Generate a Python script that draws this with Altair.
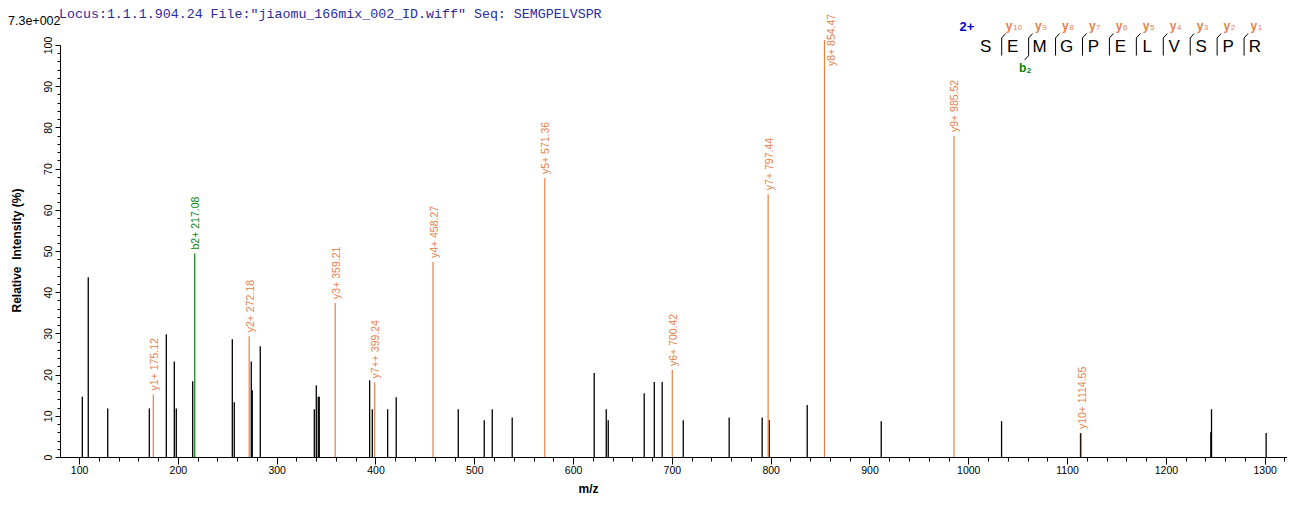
import altair as alt
import pandas as pd

# ---------------- data ----------------
peak_mz = [103.3, 109.3, 129.0, 171.1, 188.3, 196.4, 198.4, 215.0, 255.1, 257.1, 274.3, 275.3, 283.4,
           338.1, 340.1, 342.1, 343.1, 394.1, 396.8, 412.3, 421.0, 483.8, 510.1, 518.2, 538.4,
           621.4, 633.6, 635.6, 672.0, 682.2, 690.2, 711.5, 758.0, 791.4, 798.5, 837.0,
           911.9, 1033.7, 1113.6, 1245.5, 1246.2, 1301.5]
peak_int = [14.6, 43.6, 11.8, 11.8, 29.8, 23.2, 11.8, 18.4, 28.6, 13.3, 23.2, 16.2, 26.9,
            11.6, 17.4, 14.6, 14.6, 18.6, 11.6, 11.6, 14.5, 11.6, 8.9, 11.6, 9.6,
            20.4, 11.6, 8.9, 15.5, 18.2, 18.2, 8.9, 9.6, 9.6, 9.0, 12.6,
            8.7, 8.7, 5.8, 6.0, 11.6, 5.8]

ion_mz = [175.12, 217.08, 272.18, 359.21, 399.24, 458.27, 571.36, 700.42, 797.44, 854.47, 985.52, 1114.55]
ion_int = [15.2, 49.4, 29.3, 37.4, 18.1, 47.3, 67.7, 21.1, 63.8, 101.2, 77.9, 5.8]
ion_name = ["y1+", "b2+", "y2+", "y3+", "y7++", "y4+", "y5+", "y6+", "y7+", "y8+", "y9+", "y10+"]
ion_series = ["y", "b", "y", "y", "y", "y", "y", "y", "y", "y", "y", "y"]

x_major = list(range(100, 1301, 100))
x_minor = [v for v in range(100, 1321, 20) if v % 100 != 0]
y_major = list(range(0, 101, 10))
y_minor = [v for v in range(0, 101, 2) if v % 10 != 0]

header_text = 'Locus:1.1.1.904.24 File:"jiaomu_166mix_002_ID.wiff"   Seq: SEMGPELVSPR'
scale_text = "7.3e+002"
peptide = list("SEMGPELVSPR")
charge_text = "2+"
y_ion_numbers = ["10", "9", "8", "7", "6", "5", "4", "3", "2", "1"]
b_ion_numbers = ["2"]

# ---------------- styles ----------------
ORANGE = "#E5804A"
GREEN = "#0A7F0A"
BLUE = "#0000CC"
HEADER = "#2B2B9E"
FONT = "Liberation Sans"

black_df = pd.DataFrame({"mz": peak_mz, "intensity": peak_int})
ion_df = pd.DataFrame({"mz": ion_mz, "intensity": ion_int, "name": ion_name, "series": ion_series})
ion_df["label"] = ion_df["name"] + " " + ion_df["mz"].map(lambda v: f"{v:.2f}")

PLOT_W, PLOT_H = 1227, 412
xs = alt.Scale(domain=[80.7, 80.7 + PLOT_W / 0.988], nice=False, zero=False)
ys = alt.Scale(domain=[0, 100], nice=False, zero=True)
cs = alt.Scale(domain=["y", "b"], range=[ORANGE, GREEN])

x_axis = alt.Axis(
    title="m/z", values=x_major, format="d", tickSize=7, orient="bottom",
    labelPadding=1, labelFontSize=10.5, labelFont=FONT, labelColor="black",
    labelFlush=False, labelOverlap=False,
    titleFont=FONT, titleFontWeight="bold", titleFontSize=12, titleColor="black",
    titleX=528, titleY=31, titleAlign="center", titleBaseline="middle",
    domainColor="black", tickColor="black", grid=False,
)
y_axis = alt.Axis(
    title="Relative\u00a0 Intensity (%)", values=y_major, format="d", tickSize=5, orient="left",
    labelAngle=270, labelAlign="center", labelBaseline="bottom",
    labelPadding=2, labelFontSize=10.5, labelFont=FONT, labelColor="black",
    labelFlush=False, labelOverlap=False,
    titleFont=FONT, titleFontWeight="bold", titleFontSize=12, titleColor="black",
    titleAngle=270, titleX=-44, titleY=205, titleAlign="center", titleBaseline="middle",
    domainColor="black", tickColor="black", grid=False,
)
x_axis_minor = alt.Axis(values=x_minor, tickSize=4, labels=False, domain=False, title=None,
                        orient="bottom", offset=0, tickColor="black", grid=False)
y_axis_minor = alt.Axis(values=y_minor, tickSize=3, labels=False, domain=False, title=None,
                        orient="left", offset=0, tickColor="black", grid=False)

black = alt.Chart(black_df).mark_rule(color="black", strokeWidth=1.3).encode(
    x=alt.X("mz:Q", scale=xs, axis=x_axis),
    y=alt.Y("intensity:Q", scale=ys, axis=y_axis),
    y2=alt.datum(0),
)

minor = alt.Chart(black_df).mark_rule(opacity=0).encode(
    x=alt.X("mz:Q", scale=xs, axis=x_axis_minor),
    y=alt.Y("intensity:Q", scale=ys, axis=y_axis_minor),
)

ions = alt.Chart(ion_df).mark_rule(strokeWidth=1.2).encode(
    x=alt.X("mz:Q", scale=xs, axis=None),
    y=alt.Y("intensity:Q", scale=ys, axis=None),
    y2=alt.datum(0),
    color=alt.Color("series:N", scale=cs, legend=None),
)

labels = alt.Chart(ion_df).transform_filter("datum.intensity <= 95").mark_text(
    angle=270, align="left", baseline="middle", dx=4, dy=1.5, fontSize=10.5, font=FONT
).encode(
    x=alt.X("mz:Q", scale=xs, axis=None),
    y=alt.Y("intensity:Q", scale=ys, axis=None),
    text="label:N",
    color=alt.Color("series:N", scale=cs, legend=None),
)

top_labels = alt.Chart(ion_df).transform_filter("datum.intensity > 95").mark_text(
    angle=270, align="left", baseline="middle", dx=-26, dy=8, fontSize=10.5, font=FONT
).encode(
    x=alt.X("mz:Q", scale=xs, axis=None),
    y=alt.Y("intensity:Q", scale=ys, axis=None),
    text="label:N",
    color=alt.Color("series:N", scale=cs, legend=None),
)

one = pd.DataFrame({"k": [0]})
header = alt.Chart(one).mark_text(
    font="Liberation Mono", fontSize=13.3, color=HEADER, align="left", baseline="middle"
).encode(x=alt.value(-1), y=alt.value(-31), text=alt.value(header_text))

scale_label = alt.Chart(one).mark_text(
    font=FONT, fontSize=12.5, color="black", align="left", baseline="middle"
).encode(x=alt.value(-52), y=alt.value(-24), text=alt.value(scale_text))

# ---------------- peptide fragment map (top right) ----------------
OX, OY = 60, 45          # plot origin on the page
step = 26.93
letter_x0 = 985.7 - OX
letters_df = pd.DataFrame({"aa": peptide, "px": [letter_x0 + step * i for i in range(len(peptide))]})

letters = alt.Chart(letters_df).mark_text(
    font=FONT, fontSize=17, color="black", align="center", baseline="middle"
).encode(x=alt.X("px:Q", scale=None), y=alt.value(47 - OY), text="aa:N")

charge = alt.Chart(one).mark_text(
    font=FONT, fontSize=13, fontWeight="bold", color=BLUE, align="center", baseline="middle"
).encode(x=alt.value(967 - OX), y=alt.value(27 - OY), text=alt.value(charge_text))

sep_x0 = 1001.7 - OX
seg_rows = []
for k in range(len(peptide) - 1):
    x0 = sep_x0 + step * k
    seg_rows.append({"x1": x0, "x2": x0, "y1": 38 - OY, "y2": 55.5 - OY})
    seg_rows.append({"x1": x0, "x2": x0 + 4, "y1": 38 - OY, "y2": 33.5 - OY})
for n in b_ion_numbers:
    x0 = sep_x0 + step * (int(n) - 1)
    seg_rows.append({"x1": x0, "x2": x0 - 4, "y1": 55.5 - OY, "y2": 60 - OY})
seg_df = pd.DataFrame(seg_rows)
segments = alt.Chart(seg_df).mark_rule(color="black", strokeWidth=1).encode(
    x=alt.X("x1:Q", scale=None), x2="x2:Q",
    y=alt.Y("y1:Q", scale=None), y2="y2:Q",
)

yl_rows = []
for i, n in enumerate(y_ion_numbers):
    cx = letter_x0 + step * (i + 1) + 1
    w = 7 + 4.6 * len(n)
    yl_rows.append({"px": cx - w / 2 + 7, "num_px": cx - w / 2 + 7.5, "num": n})
yl_df = pd.DataFrame(yl_rows)
y_letters = alt.Chart(yl_df).mark_text(
    font=FONT, fontSize=12, fontWeight="bold", color=ORANGE, align="right", baseline="alphabetic"
).encode(x=alt.X("px:Q", scale=None), y=alt.value(30 - OY), text=alt.value("y"))
y_nums = alt.Chart(yl_df).mark_text(
    font=FONT, fontSize=8, color=ORANGE, align="left", baseline="alphabetic"
).encode(x=alt.X("num_px:Q", scale=None), y=alt.value(30 - OY), text="num:N")

bl_df = pd.DataFrame({"px": [sep_x0 + step * (int(n) - 1) - 6 for n in b_ion_numbers], "num": b_ion_numbers})
b_letters = alt.Chart(bl_df).mark_text(
    font=FONT, fontSize=12, fontWeight="bold", color=GREEN, align="center", baseline="alphabetic"
).encode(x=alt.X("px:Q", scale=None), y=alt.value(72 - OY), text=alt.value("b"))
b_nums = alt.Chart(bl_df).mark_text(
    font=FONT, fontSize=8, fontWeight="bold", color=GREEN, align="left", baseline="alphabetic"
).encode(x=alt.X("px:Q", scale=None), y=alt.value(73 - OY), text="num:N", xOffset=alt.value(4))

chart = alt.layer(
    black, minor, ions, labels, top_labels, header, scale_label,
    letters, charge, segments, y_letters, y_nums, b_letters, b_nums,
).resolve_axis(x="independent", y="independent").properties(
    width=PLOT_W, height=PLOT_H,
    padding={"left": 52, "top": 37, "right": 0, "bottom": 40},
    autosize=alt.AutoSizeParams(type="none"),
    background="white",
).configure_view(stroke=None)

chart.save("out.html", embed_options={"renderer": "svg", "actions": False})
